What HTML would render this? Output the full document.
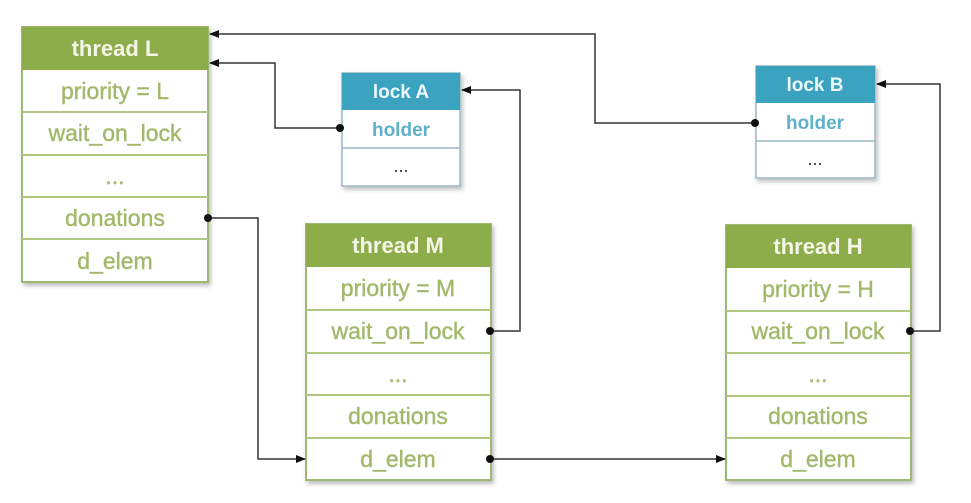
<!DOCTYPE html>
<html><head><meta charset="utf-8"><style>
html,body{margin:0;padding:0;background:#fff;}
svg{display:block;}
text{font-family:"Liberation Sans",sans-serif;font-size:22px;text-anchor:middle;}
.g{fill:#a3b86a;font-size:23px;stroke:#a3b86a;stroke-width:0.4;}
.gh{fill:#f4f7e8;font-weight:bold;}
.b{fill:#5fb0c9;font-weight:bold;font-size:19px;}
.bh{fill:#eef8fb;font-weight:bold;font-size:19px;}
.d{fill:#333;font-size:18px;}
.tl{fill:#fff;stroke:#9fb870;stroke-width:2;}
.lk{fill:#fff;stroke:#9ab8c2;stroke-width:1.5;}
.div{stroke:#b1c77f;stroke-width:2;}
.divb{stroke:#9ab8c2;stroke-width:1.5;}
.c{fill:none;stroke:#333;stroke-width:1.5;}
</style></head><body>
<svg width="971" height="503" xmlns="http://www.w3.org/2000/svg">
<defs>
<filter id="sh" x="-10%" y="-10%" width="130%" height="130%"><feDropShadow dx="2" dy="3" stdDeviation="2" flood-color="#000" flood-opacity="0.25"/></filter>
<marker id="ar" markerWidth="10" markerHeight="10" refX="9" refY="5" orient="auto" markerUnits="userSpaceOnUse"><path d="M0,1 L10,5 L0,9 z" fill="#111"/></marker>
</defs>

<g filter="url(#sh)"><rect class="tl" x="22" y="27" width="186" height="255"/></g>
<rect x="22" y="27" width="186" height="43" fill="#8dad4b"/>
<line class="div" x1="22" y1="112" x2="208" y2="112"/>
<line class="div" x1="22" y1="155" x2="208" y2="155"/>
<line class="div" x1="22" y1="197" x2="208" y2="197"/>
<line class="div" x1="22" y1="239" x2="208" y2="239"/>
<text class="gh" x="115" y="56">thread L</text>
<text class="g" x="115" y="99">priority = L</text>
<text class="g" x="115" y="141">wait_on_lock</text>
<text class="g" x="115" y="184">...</text>
<text class="g" x="115" y="226">donations</text>
<text class="g" x="115" y="269">d_elem</text>

<g filter="url(#sh)"><rect class="tl" x="306" y="224" width="185" height="256"/></g>
<rect x="306" y="224" width="185" height="43" fill="#8dad4b"/>
<line class="div" x1="306" y1="310" x2="491" y2="310"/>
<line class="div" x1="306" y1="353" x2="491" y2="353"/>
<line class="div" x1="306" y1="395" x2="491" y2="395"/>
<line class="div" x1="306" y1="438" x2="491" y2="438"/>
<text class="gh" x="398" y="253">thread M</text>
<text class="g" x="398" y="296">priority = M</text>
<text class="g" x="398" y="339">wait_on_lock</text>
<text class="g" x="398" y="382">...</text>
<text class="g" x="398" y="424">donations</text>
<text class="g" x="398" y="467">d_elem</text>

<g filter="url(#sh)"><rect class="tl" x="726" y="225" width="185" height="255"/></g>
<rect x="726" y="225" width="185" height="43" fill="#8dad4b"/>
<line class="div" x1="726" y1="311" x2="911" y2="311"/>
<line class="div" x1="726" y1="353" x2="911" y2="353"/>
<line class="div" x1="726" y1="396" x2="911" y2="396"/>
<line class="div" x1="726" y1="438" x2="911" y2="438"/>
<text class="gh" x="818" y="254">thread H</text>
<text class="g" x="818" y="297">priority = H</text>
<text class="g" x="818" y="339">wait_on_lock</text>
<text class="g" x="818" y="382">...</text>
<text class="g" x="818" y="424">donations</text>
<text class="g" x="818" y="467">d_elem</text>

<g filter="url(#sh)"><rect class="lk" x="342" y="73" width="118" height="113"/></g>
<rect x="342" y="73" width="118" height="37" fill="#3ba3bf"/>
<line class="divb" x1="342" y1="148" x2="460" y2="148"/>
<text class="bh" x="401" y="98">lock A</text>
<text class="b" x="401" y="136">holder</text>
<text class="d" x="401" y="172">...</text>

<g filter="url(#sh)"><rect class="lk" x="756" y="66" width="119" height="112"/></g>
<rect x="756" y="66" width="119" height="37" fill="#3ba3bf"/>
<line class="divb" x1="756" y1="141" x2="875" y2="141"/>
<text class="bh" x="815" y="91">lock B</text>
<text class="b" x="815" y="129">holder</text>
<text class="d" x="815" y="165">...</text>

<polyline class="c" points="755,123 595,123 595,34 210,34" marker-end="url(#ar)"/>
<polyline class="c" points="340,128 275,128 275,63 210,63" marker-end="url(#ar)"/>
<polyline class="c" points="208,218 258,218 258,459 305,459" marker-end="url(#ar)"/>
<polyline class="c" points="490,331 520,331 520,90 462,90" marker-end="url(#ar)"/>
<polyline class="c" points="490,459 725,459" marker-end="url(#ar)"/>
<polyline class="c" points="910,331 940,331 940,84 877,84" marker-end="url(#ar)"/>
<circle cx="755" cy="123" r="4" fill="#111"/>
<circle cx="340" cy="128" r="4" fill="#111"/>
<circle cx="208" cy="218" r="4" fill="#111"/>
<circle cx="490" cy="331" r="4" fill="#111"/>
<circle cx="490" cy="459" r="4" fill="#111"/>
<circle cx="910" cy="331" r="4" fill="#111"/>
</svg>
</body></html>
